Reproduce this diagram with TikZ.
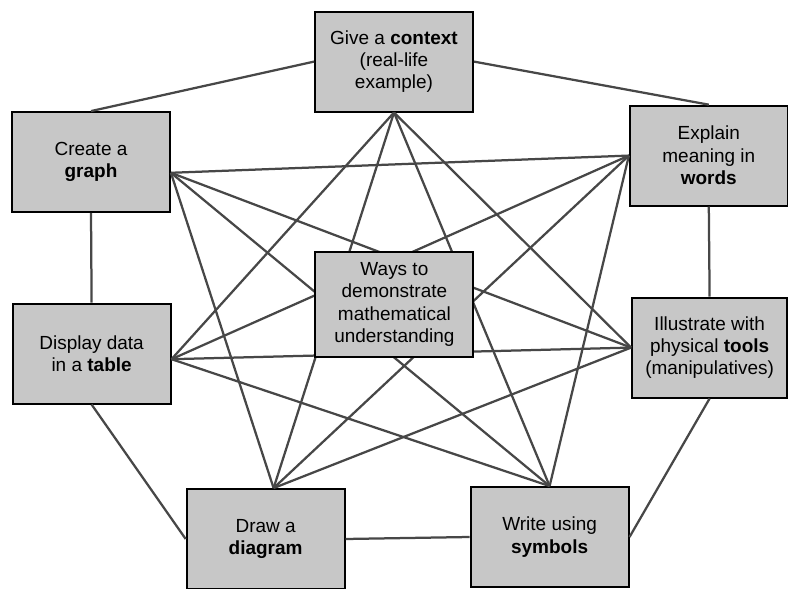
\documentclass[tikz,border=0pt]{standalone}
\usepackage{fontspec}
\setmainfont{Liberation Sans}
\usepackage{tikz}
\usetikzlibrary{positioning, calc}

\begin{document}
\begin{tikzpicture}[
			box/.style={draw=black, line width=1.3pt, fill=black!22, align=center,
				minimum width=3.95cm, minimum height=2.5cm, inner sep=2pt,
				font=\fontsize{13.5}{16}\selectfont},
			link/.style={draw=black!72, line width=1.6pt}
			]
			\useasboundingbox (0,0) rectangle (19.7,14.7);
			% Nodi esterni
			\node[box] (context) at (9.85,13.16) {Give a \textbf{context}\\(real-life\\example)};
			\node[box] (graph) at (2.275,10.65) {Create a\\\textbf{graph}};
			\node[box] (words) at (17.72,10.81) {Explain\\meaning in\\\textbf{words}};
			\node[box] (table) at (2.29,5.86) {Display data\\in a \textbf{table}};
			\node[box, minimum width=3.88cm] (tools) at (17.74,6.01) {Illustrate with\\physical \textbf{tools}\\(manipulatives)};
			\node[box] (diagram) at (6.64,1.225) {Draw a\\\textbf{diagram}};
			\node[box] (symbols) at (13.74,1.275) {Write using\\\textbf{symbols}};
			% Punti di attacco
			\coordinate (graph-e) at ([yshift=-0.27cm]graph.east);
			\coordinate (table-e) at ([yshift=-0.14cm]table.east);
			\coordinate (diagram-n) at ([xshift=0.2cm]diagram.north);
			% Bordo esterno
			\draw[link] (context.west) -- (graph.north);
			\draw[link] (context.east) -- (words.north);
			\draw[link] (graph.south) -- (table.north);
			\draw[link] (words.south) -- (tools.north);
			\draw[link] (table.south) -- (diagram.west);
			\draw[link] (tools.south) -- (symbols.east);
			\draw[link] (diagram.east) -- (symbols.west);
			% Diagonali
			\draw[link] (context.south) -- (diagram-n);
			\draw[link] (context.south) -- (table-e);
			\draw[link] (context.south) -- (tools.west);
			\draw[link] (context.south) -- (symbols.north);
			\draw[link] (graph-e) -- (words.west);
			\draw[link] (graph-e) -- (tools.west);
			\draw[link] (graph-e) -- (symbols.north);
			\draw[link] (graph-e) -- (diagram-n);
			\draw[link] (table-e) -- (words.west);
			\draw[link] (table-e) -- (tools.west);
			\draw[link] (table-e) -- (symbols.north);
			\draw[link] (diagram-n) -- (words.west);
			\draw[link] (diagram-n) -- (tools.west);
			\draw[link] (symbols.north) -- (words.west);
			% Nodo centrale
			\node[box, minimum height=2.62cm] (ways) at (9.86,7.09) {Ways to\\demonstrate\\mathematical\\understanding};
		\end{tikzpicture}
\end{document}
